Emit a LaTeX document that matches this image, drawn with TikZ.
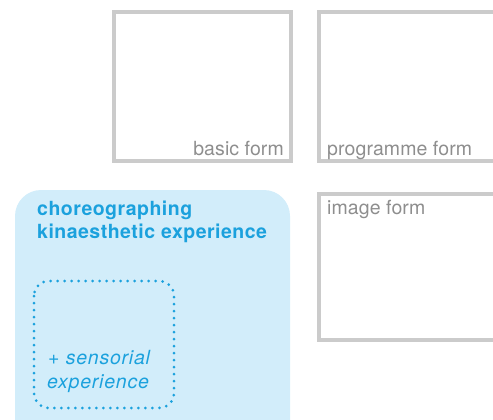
\documentclass[tikz,border=0pt]{standalone}
\usepackage{fontspec}
\setmainfont{TeX Gyre Heros}
\newfontfamily\greyfont[LetterSpace=0.5]{TeX Gyre Heros}
\newfontfamily\titlefont[LetterSpace=2.5]{TeX Gyre Heros}
\newfontfamily\itfont[LetterSpace=4]{TeX Gyre Heros}
\definecolor{formgrey}{HTML}{CBCBCB}
\definecolor{formtext}{HTML}{8E8E8E}
\definecolor{kinfill}{HTML}{D2EDFA}
\definecolor{kinblue}{HTML}{1BA1DD}
\tikzset{
  formbox/.style={draw=formgrey, line width=4pt},
  formlabel/.style={inner sep=0pt, text=formtext, font=\greyfont\fontsize{19.5}{23}\selectfont},
  titlelabel/.style={inner sep=0pt, text=kinblue, font=\titlefont\bfseries\fontsize{19.5}{23}\selectfont},
  senslabel/.style={inner sep=0pt, text=kinblue, font=\itfont\itshape\fontsize{19.5}{23}\selectfont},
  dotbox/.style={draw=kinblue, line width=3pt, line cap=round, dash pattern=on 0pt off 7pt, rounded corners=15pt}
}
\begin{document}
\begin{tikzpicture}[x=1pt,y=-1pt]
\useasboundingbox (0,0) rectangle (493,420);
\clip (0,0) rectangle (493,420);
% grey form boxes
\draw[formbox] (114,12) rectangle (291,161);
\draw[formbox] (319,12) rectangle (520,161);
\draw[formbox] (319,194) rectangle (520,340);
% blue area
\fill[kinfill, rounded corners=26pt] (15,190) rectangle (290,460);
\draw[dotbox] (34,281) rectangle (174,408);
% labels
\node[formlabel, anchor=base east] (basic) at (284,155) {basic form};
\node[formlabel, anchor=base west] (prog) at (327,155) {programme form};
\node[formlabel, anchor=base west] (image) at (327,214) {image form};
\node[titlelabel, anchor=base west] (t1) at (37,215) {choreographing};
\node[titlelabel, anchor=base west] (t2) at (37,238) {kinaesthetic experience};
\node[senslabel, anchor=base west] (s1) at (48,364) {+ sensorial};
\node[senslabel, anchor=base west] (s2) at (47,388) {experience};
\end{tikzpicture}
\end{document}
